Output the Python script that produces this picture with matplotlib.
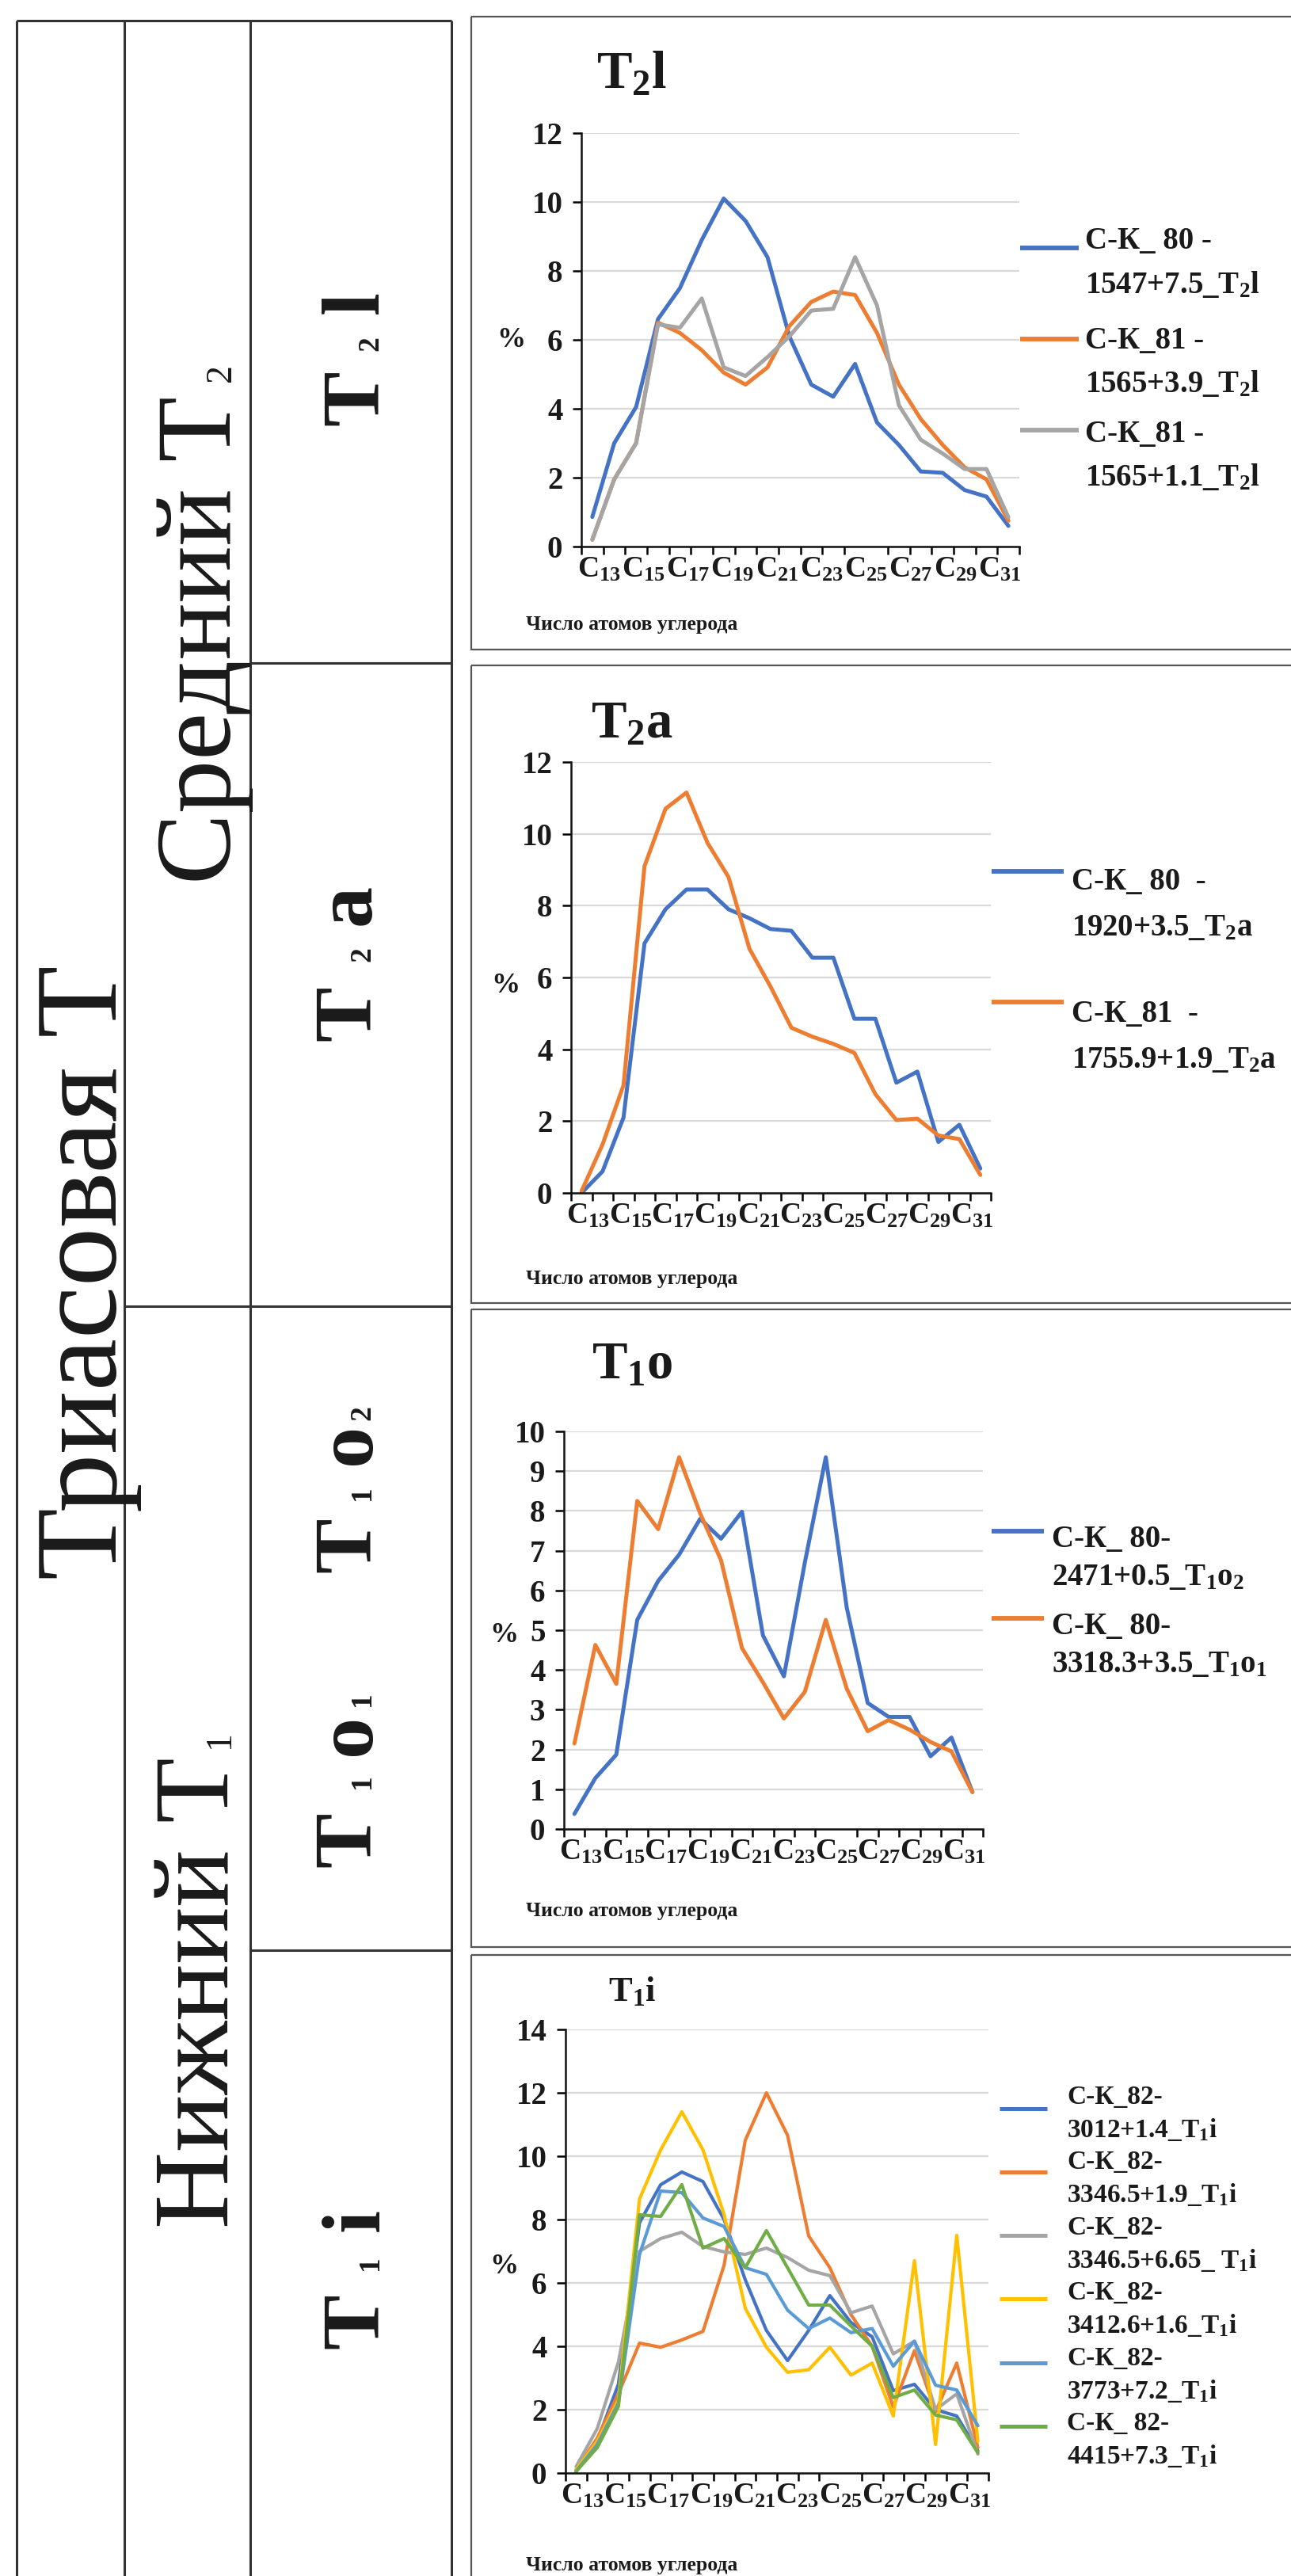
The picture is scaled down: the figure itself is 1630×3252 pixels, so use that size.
import numpy as np
import matplotlib
matplotlib.use("Agg")
import matplotlib.pyplot as plt
from matplotlib.lines import Line2D
from matplotlib.patches import Rectangle

W, H, DPI = 1630, 3252, 100

# ---------------- data ----------------
carbon = list(range(13, 33))                      # 20 categories (carbon number)
xtick_labels = ["C$_{%d}$" % n for n in range(13, 32, 2)]

# Panel T2l
t2l_titles = "T$_2$l"
t2l_labels = [("С-К_ 80 -", "1547+7.5_T$_2$l"),
              ("С-К_81 -", "1565+3.9_T$_2$l"),
              ("С-К_81 -", "1565+1.1_T$_2$l")]
t2l_ck80_1547_75 = [0.86, 3.0, 4.05, 6.6, 7.5, 8.9, 10.1, 9.45, 8.4, 6.1,
                    4.7, 4.35, 5.3, 3.6, 2.95, 2.18, 2.14, 1.64, 1.45, 0.6]
t2l_ck81_1565_39 = [0.2, 1.95, 3.0, 6.5, 6.2, 5.7, 5.05, 4.7, 5.2, 6.4,
                    7.1, 7.4, 7.3, 6.2, 4.7, 3.7, 2.95, 2.3, 1.95, 0.75]
t2l_ck81_1565_11 = [0.2, 1.95, 3.0, 6.45, 6.35, 7.2, 5.2, 4.95, 5.5, 6.1,
                    6.85, 6.9, 8.4, 7.0, 4.1, 3.1, 2.7, 2.25, 2.25, 0.85]

# Panel T2a
t2a_labels = [("С-К_ 80  -", "1920+3.5_T$_2$a"),
              ("С-К_81  -", "1755.9+1.9_T$_2$a")]
t2a_ck80_1920_35 = [0.0, 0.6, 2.1, 6.95, 7.9, 8.45, 8.45, 7.9, 7.65, 7.35,
                    7.3, 6.55, 6.55, 4.85, 4.85, 3.07, 3.38, 1.42, 1.9, 0.68]
t2a_ck81_1755_19 = [0.05, 1.35, 3.0, 9.1, 10.7, 11.15, 9.75, 8.8, 6.8, 5.75,
                    4.6, 4.35, 4.15, 3.9, 2.75, 2.03, 2.07, 1.6, 1.5, 0.5]

# Panel T1o
t1o_labels = [("С-К_ 80-", "2471+0.5_T$_1$o$_2$"),
              ("С-К_ 80-", "3318.3+3.5_T$_1$o$_1$")]
t1o_ck80_2471_05 = [0.38, 1.28, 1.87, 5.26, 6.24, 6.9, 7.8, 7.3, 7.98, 4.87,
                    3.84, 6.7, 9.35, 5.57, 3.17, 2.82, 2.82, 1.83, 2.3, 0.93]
t1o_ck80_3318_35 = [2.15, 4.63, 3.65, 8.25, 7.54, 9.35, 7.94, 6.76, 4.55, 3.69,
                    2.78, 3.45, 5.26, 3.53, 2.46, 2.74, 2.5, 2.19, 1.95, 0.93]

# Panel T1i
t1i_labels = [("С-К_82-", "3012+1.4_T$_1$i"),
              ("С-К_82-", "3346.5+1.9_T$_1$i"),
              ("С-К_82-", "3346.5+6.65_ T$_1$i"),
              ("С-К_82-", "3412.6+1.6_T$_1$i"),
              ("С-К_82-", "3773+7.2_T$_1$i"),
              ("С-К_ 82-", "4415+7.3_T$_1$i")]
t1i_ck82_3012_14 = [0.05, 1.0, 2.8, 7.9, 9.1, 9.5, 9.2, 8.0, 6.1, 4.5,
                    3.55, 4.5, 5.6, 4.75, 4.3, 2.6, 2.8, 2.0, 1.8, 0.7]
t1i_ck82_3346_19 = [0.1, 1.1, 2.5, 4.1, 3.97, 4.2, 4.47, 6.56, 10.5, 12.0,
                    10.66, 7.48, 6.48, 5.0, 4.0, 2.08, 3.86, 1.93, 3.47, 0.8]
t1i_ck82_3346_665 = [0.2, 1.4, 3.5, 7.0, 7.4, 7.6, 7.15, 6.98, 6.9, 7.1,
                     6.8, 6.4, 6.23, 5.06, 5.27, 3.76, 4.16, 2.0, 2.5, 0.6]
t1i_ck82_3412_16 = [0.1, 1.0, 2.3, 8.65, 10.2, 11.4, 10.2, 8.15, 5.2, 3.97,
                    3.18, 3.26, 3.97, 3.09, 3.47, 1.8, 6.7, 0.9, 7.5, 1.0]
t1i_ck82_3773_72 = [0.05, 0.9, 2.2, 6.9, 8.9, 8.85, 8.05, 7.78, 6.48, 6.27,
                    5.14, 4.56, 4.89, 4.43, 4.56, 3.37, 4.16, 2.77, 2.62, 1.49]
t1i_ck82_4415_73 = [0.05, 0.8, 2.1, 8.15, 8.1, 9.1, 7.1, 7.4, 6.48, 7.65,
                    6.48, 5.3, 5.3, 4.64, 4.0, 2.38, 2.62, 1.83, 1.68, 0.64]

C_BLUE, C_ORANGE, C_GRAY = "#4472C4", "#ED7D31", "#A5A5A5"
C_YELLOW, C_LBLUE, C_GREEN = "#FFC000", "#5B9BD5", "#70AD47"

# ---------------- style ----------------
plt.rcParams['font.family'] = ['Liberation Serif', 'DejaVu Serif']
plt.rcParams['font.weight'] = 'bold'
plt.rcParams['mathtext.fontset'] = 'custom'
plt.rcParams['mathtext.rm'] = 'Liberation Serif:bold'
plt.rcParams['mathtext.it'] = 'Liberation Serif:bold'
plt.rcParams['mathtext.bf'] = 'Liberation Serif:bold'

fig = plt.figure(figsize=(W / DPI, H / DPI), dpi=DPI)
fig.patch.set_facecolor('white')

bg = fig.add_axes([0, 0, 1, 1])
bg.set_xlim(0, W)
bg.set_ylim(H, 0)
bg.axis('off')

LINE = '#333333'
TXT = '#1a1a1a'


def hline(x0, x1, y, lw=2.2, c=LINE):
    bg.add_line(Line2D([x0, x1], [y, y], color=c, lw=lw, solid_capstyle='butt'))


def vline(x, y0, y1, lw=2.2, c=LINE):
    bg.add_line(Line2D([x, x], [y0, y1], color=c, lw=lw, solid_capstyle='butt'))


# ---------------- left stratigraphic table ----------------
TOP = 26
for xx in (21, 157, 316, 570):
    vline(xx, TOP, H + 5)
hline(21, 570, TOP)
hline(157, 570, 1649)
hline(316, 570, 837)
hline(316, 570, 2462)


def vtext(x, y, s, size, weight='bold', ha='center'):
    bg.text(x, y, s, rotation=90, rotation_mode='anchor', ha=ha, va='baseline',
            fontsize=size, fontweight=weight, color=TXT)


vtext(147, 1606, "Триасовая Т", 107, weight='normal')
vtext(291, 500, "Средний Т", 97, weight='normal', ha='right')
vtext(291, 471, "2", 33, weight='normal')
vtext(289, 2218, "Нижний Т", 97, weight='normal', ha='right')
vtext(289, 2196, "1", 33, weight='normal')

BIG, SMALL = 75, 27
for (xb, pieces) in [
        (477, [("T", 502, BIG), ("2", 434, SMALL), ("l", 382, BIG)]),
        (467, [("T", 1279, BIG), ("2", 1205, SMALL), ("a", 1142, BIG)]),
        (467, [("T", 1950, BIG), ("1", 1885, SMALL), ("o", 1823, BIG), ("2", 1784, SMALL)]),
        (467, [("T", 2322, BIG), ("1", 2249, SMALL), ("o", 2190, BIG), ("1", 2145, SMALL)]),
        (477, [("T", 2930, BIG), ("1", 2857, SMALL), ("i", 2803, BIG)])]:
    for s, yy, sz in pieces:
        vtext(xb, yy, s, sz)

# ---------------- chart panels ----------------
pos = np.arange(len(carbon))


def panel(box, axrect, title, title_size, title_xy, series, colors, labels,
          ymax, ystep, lw, pct_xy, xlab_xy, leg):
    bx0, by0, by1 = box
    bg.add_patch(Rectangle((bx0, by0), W + 10 - bx0, by1 - by0, fill=False,
                           ec='#555555', lw=1.6))
    x0, y0, x1, y1 = axrect
    ax = fig.add_axes([x0 / W, 1 - y1 / H, (x1 - x0) / W, (y1 - y0) / H])
    ax.patch.set_alpha(0)
    for vals, c in zip(series, colors):
        ax.plot(pos, vals, color=c, lw=lw, solid_joinstyle='round',
                solid_capstyle='round')
    ax.set_xlim(-0.5, len(carbon) - 0.5)
    ax.set_ylim(0, ymax)
    ax.set_yticks(np.arange(0, ymax + 0.01, ystep))
    ax.yaxis.grid(True, color='#d9d9d9', lw=1.6)
    ax.set_axisbelow(True)
    ax.set_xticks(np.linspace(0.3, 18.6, len(xtick_labels)))
    ax.set_xticklabels(xtick_labels)
    ax.set_xticks(np.arange(-0.5, len(carbon)), minor=True)
    ax.tick_params(axis='x', which='major', length=0, pad=8, labelsize=27,
                   labelcolor=TXT)
    ax.tick_params(axis='x', which='minor', length=7, width=1.8, direction='out')
    ax.tick_params(axis='y', length=8, width=1.8, pad=9, labelsize=28,
                   labelcolor=TXT)
    for side in ('top', 'right'):
        ax.spines[side].set_visible(False)
    for side in ('left', 'bottom'):
        ax.spines[side].set_linewidth(1.8)
        ax.spines[side].set_color('#111111')

    bg.text(title_xy[0], title_xy[1], title, ha='center', va='center',
            fontsize=title_size, color=TXT)
    bg.text(pct_xy[0], pct_xy[1], "%", ha='center', va='center', fontsize=26,
            color=TXT)
    bg.text(xlab_xy[0], xlab_xy[1], "Число атомов углерода", ha='center',
            va='center', fontsize=18.5, color=TXT)

    hx0, hx1, tx, handle_y, line1_y, dy, fs = leg
    for (l1, l2), c, hy, ly in zip(labels, colors, handle_y, line1_y):
        bg.add_line(Line2D([hx0, hx1], [hy, hy], color=c, lw=lw + 0.6,
                           solid_capstyle='butt'))
        bg.text(tx, ly, l1, ha='left', va='center', fontsize=fs, color=TXT)
        bg.text(tx, ly + dy, l2, ha='left', va='center', fontsize=fs, color=TXT)
    return ax


panel((595, 21, 820), (734, 168, 1287, 690), t2l_titles, 48, (798, 95),
      [t2l_ck80_1547_75, t2l_ck81_1565_39, t2l_ck81_1565_11],
      [C_BLUE, C_ORANGE, C_GRAY], t2l_labels, 12, 2, 3.6,
      (645, 429), (798, 788),
      (1288, 1362, 1370, [313, 428, 543], [305, 430, 548], 55, 28))

panel((595, 840, 1645), (721, 962, 1251, 1506), "T$_2$a", 48, (798, 915),
      [t2a_ck80_1920_35, t2a_ck81_1755_19],
      [C_BLUE, C_ORANGE], t2a_labels, 12, 2, 3.6,
      (638, 1244), (798, 1614),
      (1252, 1343, 1353, [1100, 1265], [1113, 1280], 58, 28))

panel((595, 1653, 2458), (712, 1807, 1241, 2309), "T$_1$o", 48, (798, 1724),
      [t1o_ck80_2471_05, t1o_ck80_3318_35],
      [C_BLUE, C_ORANGE], t1o_labels, 10, 1, 3.6,
      (636, 2064), (798, 2412),
      (1252, 1318, 1328, [1933, 2043], [1943, 2053], 48, 28))

panel((595, 2468, H + 10), (714, 2562, 1248, 3122), "T$_1$i", 32, (798, 2514),
      [t1i_ck82_3012_14, t1i_ck82_3346_19, t1i_ck82_3346_665,
       t1i_ck82_3412_16, t1i_ck82_3773_72, t1i_ck82_4415_73],
      [C_BLUE, C_ORANGE, C_GRAY, C_YELLOW, C_LBLUE, C_GREEN], t1i_labels,
      14, 2, 3.0,
      (636, 2861), (798, 3238),
      (1262, 1322, 1347, [2662, 2742, 2822, 2902, 2983, 3063],
       [2647, 2729, 2812, 2894, 2977, 3059], 41, 24))

fig.savefig("out.png", dpi=DPI, facecolor='white')
